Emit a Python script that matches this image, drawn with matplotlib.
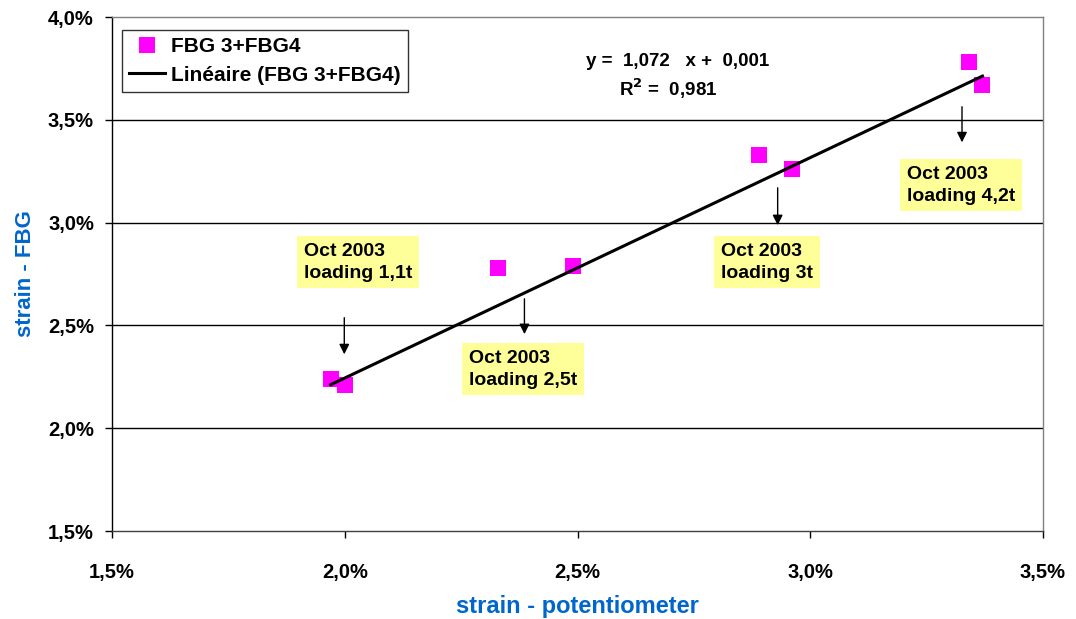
import matplotlib
matplotlib.use("Agg")
import matplotlib.pyplot as plt
import numpy as np

# Data (in %)
strain_pot = [1.97, 2.00, 2.33, 2.49, 2.89, 2.96, 3.34, 3.37]
strain_fbg = [2.24, 2.21, 2.78, 2.79, 3.33, 3.26, 3.78, 3.67]
slope = 1.072
intercept = 0.001  # fraction
x_ticks = [1.5, 2.0, 2.5, 3.0, 3.5]
x_labels = ["1,5%", "2,0%", "2,5%", "3,0%", "3,5%"]
y_ticks = [1.5, 2.0, 2.5, 3.0, 3.5, 4.0]
y_labels = ["1,5%", "2,0%", "2,5%", "3,0%", "3,5%", "4,0%"]
notes = ["Oct 2003\nloading 1,1t", "Oct 2003\nloading 2,5t",
         "Oct 2003\nloading 3t", "Oct 2003\nloading 4,2t"]

plt.rcParams['font.family'] = ['Liberation Sans', 'DejaVu Sans']
fig = plt.figure(figsize=(10.76, 6.19), dpi=100)
ax = fig.add_axes([112/1076, 1-531/619, (1043-112)/1076, (531-17)/619])

ax.set_xlim(1.5, 3.5)
ax.set_ylim(1.5, 4.0)

for yv in y_ticks[1:-1]:
    ax.axhline(yv, color='black', lw=1.0, zorder=1)

ax.plot(strain_pot, strain_fbg, 's', color='#FF00FF', markersize=11.5,
        markeredgewidth=0, label='FBG 3+FBG4', zorder=3)
xl = np.array([min(strain_pot), max(strain_pot)])
yl = (slope * xl / 100 + intercept) * 100
ax.plot(xl, yl, color='black', lw=2.2, label='Linéaire (FBG 3+FBG4)', zorder=4)

ax.set_xticks(x_ticks)
ax.set_xticklabels(x_labels)
ax.set_yticks(y_ticks)
ax.set_yticklabels(y_labels)
ax.tick_params(axis='both', labelsize=14.5, length=5, width=1, direction='out', colors='black')
for lab in ax.get_xticklabels() + ax.get_yticklabels():
    lab.set_fontweight('bold')
ax.tick_params(axis='x', pad=18)
ax.tick_params(axis='y', pad=8)

ax.spines['left'].set_color('black')
ax.spines['bottom'].set_color('#404040')
ax.spines['top'].set_color('#808080')
ax.spines['right'].set_color('#808080')
for s in ax.spines.values():
    s.set_linewidth(1.0)

ax.set_xlabel('strain - potentiometer', fontsize=17, fontweight='bold', color='#0066CC')
ax.set_ylabel('strain - FBG', fontsize=16, fontweight='bold', color='#0066CC')
ax.xaxis.set_label_coords(0.5, -0.125)
ax.yaxis.set_label_coords(-0.082, 0.5)

leg = ax.legend(loc='upper left', bbox_to_anchor=(10/931, 1-13/514), fontsize=15,
                frameon=True, fancybox=False, edgecolor='black', borderpad=0.35,
                handlelength=1.7, handletextpad=0.3, labelspacing=0.45, borderaxespad=0)
leg.get_frame().set_linewidth(1.0)
for t in leg.get_texts():
    t.set_fontweight('bold')

ax.text(0.608, 0.913, 'y =  1,072   x +  0,001', transform=ax.transAxes, ha='center', va='center',
        fontsize=13.5, fontweight='bold')
ax.text(0.597, 0.861, 'R$^\\mathbf{2}$ =  0,981', transform=ax.transAxes, ha='center', va='center',
        fontsize=13.5, fontweight='bold')

note_pos = [(1.913, 2.901), (2.266, 2.380), (2.808, 2.901), (3.208, 3.275)]
arrows = [(1.999, 2.551, 2.346), (2.386, 2.643, 2.444), (2.930, 3.183, 2.974), (3.326, 3.577, 3.377)]
for txt, (tx, ty) in zip(notes, note_pos):
    ax.text(tx, ty, txt, ha='left', va='top', fontsize=14, fontweight='bold', linespacing=1.35,
            bbox=dict(boxstyle='square,pad=0.35', facecolor='#FFFF99', edgecolor='none'), zorder=2)
for (axx, y0, y1) in arrows:
    ax.annotate('', xy=(axx, y1), xytext=(axx, y0),
                arrowprops=dict(arrowstyle='-|>', color='black', lw=1.0, mutation_scale=15), zorder=5)

fig.savefig('out.png', dpi=100)
